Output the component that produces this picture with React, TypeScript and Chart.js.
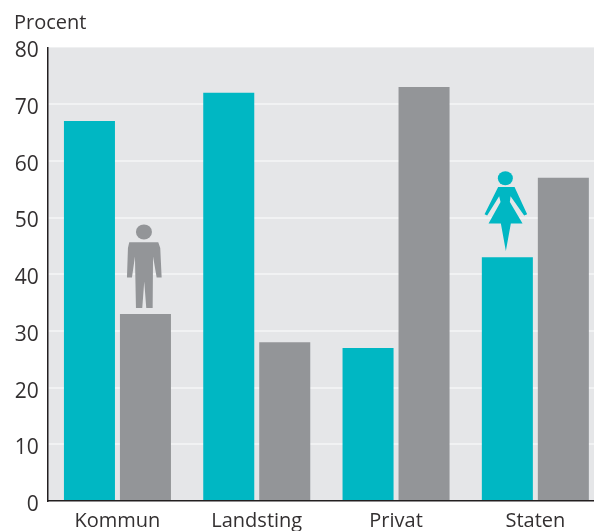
import React, { useEffect, useRef } from "react";
import { Chart, registerables } from "chart.js";

Chart.register(...registerables);

const categories = ["Kommun", "Landsting", "Privat", "Staten"];
const kvinnor = [67, 72, 27, 43];
const man = [33, 28, 73, 57];
const yTicks = [0, 10, 20, 30, 40, 50, 60, 70, 80];
const yTitle = "Procent";

const TEAL = "#00b7c3";
const GREY = "#939598";
const PLOT_BG = "#e5e6e8";
const GRID = "#f1f2f3";
const AXIS = "#231f20";
const TEXT = "#333031";
const FONT = "'Open Sans'";

// Silhouette outlines, relative to the bar's centre and top edge
const manBody: number[][] = [
  [-16.2, -71.7], [12.8, -71.7], [14.8, -66], [16.2, -36.3], [11.2, -36.3], [7.6, -57.3], [7.2, -6],
  [0.8, -6], [-1.2, -32.3], [-3.2, -6], [-9.5, -6], [-10.5, -57.3], [-13.5, -36.3], [-18.5, -36.3], [-17.5, -66],
];
const womanBody: number[][] = [
  [-9.2, -70.3], [-22.8, -43], [-20.2, -41.7], [-8.2, -61], [-6.8, -55.3], [-18.8, -33.7], [-6.5, -33.7],
  [-1.5, -6.3], [3.5, -33.7], [15.2, -33.7], [2.5, -55.3], [3.2, -61], [16.8, -41.7], [19.8, -43], [7.2, -70.3],
];

const figure = (
  ctx: CanvasRenderingContext2D,
  cx: number,
  top: number,
  outline: number[][],
  head: number[],
  color: string,
) => {
  ctx.fillStyle = color;
  ctx.beginPath();
  outline.forEach(([dx, dy], i) => (i ? ctx.lineTo(cx + dx, top + dy) : ctx.moveTo(cx + dx, top + dy)));
  ctx.closePath();
  ctx.fill();
  ctx.beginPath();
  ctx.ellipse(cx + head[0], top + head[1], head[2], head[3], 0, 0, Math.PI * 2);
  ctx.fill();
};

const decorations = {
  id: "decorations",
  beforeDraw(chart: any) {
    const { ctx, chartArea: a } = chart;
    ctx.save();
    ctx.fillStyle = PLOT_BG;
    ctx.fillRect(a.left, a.top, a.right - a.left, a.bottom - a.top);
    ctx.restore();
  },
  afterDraw(chart: any) {
    const { ctx } = chart;
    ctx.save();
    ctx.fillStyle = TEXT;
    ctx.font = `20px ${FONT}`;
    ctx.textAlign = "left";
    ctx.textBaseline = "alphabetic";
    ctx.fillText(yTitle, 14, 29);
    const manBar = chart.getDatasetMeta(1).data[0];
    figure(ctx, manBar.x, manBar.y, manBody, [-1.5, -82, 8, 7.5], GREY);
    const womanBar = chart.getDatasetMeta(0).data[3];
    figure(ctx, womanBar.x, womanBar.y, womanBody, [-2, -79, 7.5, 7], TEAL);
    ctx.restore();
  },
};

export default function App() {
  const ref = useRef<HTMLCanvasElement>(null);
  useEffect(() => {
    const chart = new Chart(ref.current!, {
      type: "bar",
      data: {
        labels: categories,
        datasets: [
          { label: "Kvinnor", data: kvinnor, backgroundColor: TEAL },
          { label: "Män", data: man, backgroundColor: GREY },
        ],
      },
      options: {
        responsive: false,
        animation: false,
        layout: { padding: { top: 47.4, left: 0, right: 0, bottom: 0 } },
        datasets: { bar: { categoryPercentage: 0.804, barPercentage: 0.911 } },
        plugins: { legend: { display: false }, title: { display: false }, tooltip: { enabled: false } },
        scales: {
          x: {
            afterFit: (s: any) => { s.height = 30; },
            grid: { display: false, drawTicks: false },
            border: { color: AXIS, width: 1.5 },
            ticks: { color: TEXT, font: { family: FONT, size: 20 }, padding: 8, maxRotation: 0 },
          },
          y: {
            min: 0,
            max: 80,
            afterFit: (s: any) => { s.width = 47.8; },
            afterBuildTicks: (s: any) => { s.ticks = yTicks.map((value) => ({ value })); },
            grid: {
              drawTicks: false,
              lineWidth: 2,
              color: (c: any) => (c.tick && (c.tick.value === 0 || c.tick.value === 80) ? "rgba(0,0,0,0)" : GRID),
            },
            border: { color: AXIS, width: 1.5 },
            ticks: { color: TEXT, font: { family: FONT, size: 21 }, padding: 9, labelOffset: 4 },
          },
        },
      },
      plugins: [decorations],
    } as any);
    return () => chart.destroy();
  }, []);
  return (
    <div style={{ position: "absolute", left: 0, top: 0, width: 594, height: 531, overflow: "hidden", background: "#fff" }}>
      <canvas ref={ref} width={605} height={531} style={{ display: "block" }} />
    </div>
  );
}
